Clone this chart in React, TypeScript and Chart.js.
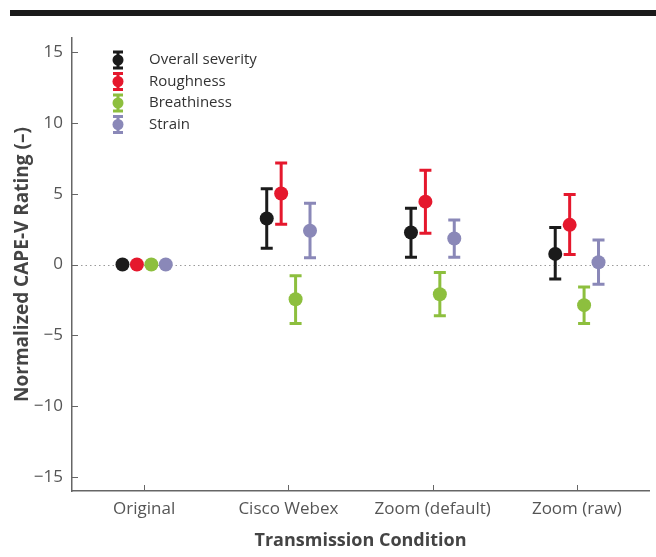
import React, { useEffect, useRef } from "react";
import { Chart, registerables } from "chart.js";
Chart.register(...registerables);

const categories = ["Original", "Cisco Webex", "Zoom (default)", "Zoom (raw)"];
const seriesNames = ["Overall severity", "Roughness", "Breathiness", "Strain"];
const seriesColors = ["#1b1b1b", "#e5182d", "#8dbf3e", "#8a88b8"];
const seriesOffsets = [-0.15, -0.05, 0.05, 0.15];

const overallMean = [0, 3.25, 2.26, 0.75];
const overallLow = [0, 1.14, 0.51, -1.03];
const overallHigh = [0, 5.35, 3.97, 2.62];

const roughMean = [0, 5.02, 4.44, 2.8];
const roughLow = [0, 2.85, 2.2, 0.7];
const roughHigh = [0, 7.17, 6.66, 4.95];

const breathMean = [0, -2.45, -2.1, -2.87];
const breathLow = [0, -4.16, -3.62, -4.16];
const breathHigh = [0, -0.79, -0.56, -1.59];

const strainMean = [0, 2.38, 1.84, 0.16];
const strainLow = [0, 0.47, 0.51, -1.4];
const strainHigh = [0, 4.32, 3.15, 1.73];

const yTicks = [-15, -10, -5, 0, 5, 10, 15];

const means = [overallMean, roughMean, breathMean, strainMean];
const lows = [overallLow, roughLow, breathLow, strainLow];
const highs = [overallHigh, roughHigh, breathHigh, strainHigh];

const FONT = "'Open Sans', 'Noto Sans', sans-serif";

const topBarPlugin = {
  id: "topBar",
  beforeDraw(chart: any) {
    const ctx = chart.ctx;
    ctx.save();
    ctx.fillStyle = "#1a1a1a";
    ctx.fillRect(10, 10, chart.width - 10, 6);
    ctx.restore();
  },
};

const zeroLinePlugin = {
  id: "zeroLine",
  beforeDatasetsDraw(chart: any) {
    const { ctx, chartArea, scales } = chart;
    const y = Math.round(scales.y.getPixelForValue(0)) + 0.5;
    ctx.save();
    ctx.strokeStyle = "#9a9a9a";
    ctx.lineWidth = 1;
    ctx.setLineDash([1.5, 3]);
    ctx.beginPath();
    ctx.moveTo(chartArea.left, y);
    ctx.lineTo(chartArea.right, y);
    ctx.stroke();
    ctx.restore();
  },
};

const errorBarPlugin = {
  id: "errorBars",
  beforeDatasetsDraw(chart: any) {
    const { ctx, scales } = chart;
    ctx.save();
    ctx.lineWidth = 3;
    chart.data.datasets.forEach((ds: any, di: number) => {
      ctx.strokeStyle = seriesColors[di];
      ds.data.forEach((pt: any, i: number) => {
        const lo = lows[di][i];
        const hi = highs[di][i];
        if (lo === hi) return;
        const x = scales.x.getPixelForValue(pt.x);
        const yl = scales.y.getPixelForValue(lo);
        const yh = scales.y.getPixelForValue(hi);
        ctx.beginPath();
        ctx.moveTo(x, yl);
        ctx.lineTo(x, yh);
        ctx.moveTo(x - 6, yl);
        ctx.lineTo(x + 6, yl);
        ctx.moveTo(x - 6, yh);
        ctx.lineTo(x + 6, yh);
        ctx.stroke();
      });
    });
    ctx.restore();
  },
};

const inwardTicksPlugin = {
  id: "inwardTicks",
  afterDraw(chart: any) {
    const { ctx, chartArea, scales } = chart;
    ctx.save();
    ctx.strokeStyle = "#666";
    ctx.lineWidth = 1;
    ctx.beginPath();
    scales.y.ticks.forEach((t: any) => {
      const y = Math.round(scales.y.getPixelForValue(t.value)) + 0.5;
      ctx.moveTo(chartArea.left, y);
      ctx.lineTo(chartArea.left + 6, y);
    });
    scales.x.ticks.forEach((t: any) => {
      const x = Math.round(scales.x.getPixelForValue(t.value)) + 0.5;
      ctx.moveTo(x, chartArea.bottom);
      ctx.lineTo(x, chartArea.bottom - 6);
    });
    ctx.stroke();
    ctx.restore();
  },
};

const legendPlugin = {
  id: "customLegend",
  afterDraw(chart: any) {
    const { ctx, chartArea } = chart;
    ctx.save();
    const gx = chartArea.left + 46;
    const tx = chartArea.left + 77;
    const y0 = chartArea.top + 22;
    const step = 21.5;
    ctx.font = `15px ${FONT}`;
    ctx.textBaseline = "middle";
    ctx.textAlign = "left";
    seriesNames.forEach((name, i) => {
      const y = y0 + i * step;
      const c = seriesColors[i];
      ctx.strokeStyle = c;
      ctx.fillStyle = c;
      ctx.lineWidth = 3;
      ctx.beginPath();
      ctx.moveTo(gx, y - 8);
      ctx.lineTo(gx, y + 8);
      ctx.moveTo(gx - 5, y - 8);
      ctx.lineTo(gx + 5, y - 8);
      ctx.moveTo(gx - 5, y + 8);
      ctx.lineTo(gx + 5, y + 8);
      ctx.stroke();
      ctx.beginPath();
      ctx.arc(gx, y, 5.5, 0, Math.PI * 2);
      ctx.fill();
      ctx.fillStyle = "#333";
      ctx.fillText(name, tx, y);
    });
    ctx.restore();
  },
};

export default function App() {
  const ref = useRef<HTMLCanvasElement>(null);
  useEffect(() => {
    document.body.style.margin = "0";
    const canvas = ref.current;
    if (!canvas) return;
    const datasets = seriesNames.map((name, di) => ({
      label: name,
      data: categories.map((_, i) => ({ x: i + seriesOffsets[di], y: means[di][i] })),
      backgroundColor: seriesColors[di],
      borderColor: seriesColors[di],
      pointRadius: 7,
      pointBorderWidth: 0,
      showLine: false,
    }));
    const chart = new Chart(canvas, {
      type: "scatter",
      data: { datasets },
      options: {
        responsive: false,
        animation: false,
        devicePixelRatio: 1,
        layout: { padding: { top: 38, right: 4, left: 0, bottom: 0 } },
        plugins: { legend: { display: false }, tooltip: { enabled: false } },
        scales: {
          x: {
            type: "linear",
            min: -0.5,
            max: 3.5,
            afterFit: (s: any) => {
              s.height = 66;
            },
            afterBuildTicks: (s: any) => {
              s.ticks = categories.map((_, i) => ({ value: i }));
            },
            grid: { display: false, drawTicks: false },
            border: { display: true, color: "#666", width: 1.5 },
            ticks: {
              padding: 8,
              color: "#555",
              font: { family: FONT, size: 17 },
              callback: (v: any) => categories[v] ?? "",
              maxRotation: 0,
              autoSkip: false,
            },
            title: {
              display: true,
              text: "Transmission Condition",
              color: "#444",
              font: { family: FONT, size: 18, weight: "bold" },
              padding: { top: 0, bottom: 5 },
            },
          },
          y: {
            type: "linear",
            min: -16,
            max: 16,
            afterFit: (s: any) => {
              s.width = 72;
            },
            afterBuildTicks: (s: any) => {
              s.ticks = yTicks.map((v) => ({ value: v }));
            },
            grid: { display: false, drawTicks: false },
            border: { display: true, color: "#666", width: 1.5 },
            ticks: {
              padding: 9,
              color: "#555",
              font: { family: FONT, size: 17 },
              callback: (v: any) => (v < 0 ? "\u2212" + Math.abs(v) : String(v)),
            },
            title: {
              display: true,
              text: "Normalized CAPE-V Rating (\u2013)",
              color: "#444",
              font: { family: FONT, size: 19, weight: "bold" },
              padding: { top: 11, bottom: 0 },
            },
          },
        },
      },
      plugins: [topBarPlugin, zeroLinePlugin, errorBarPlugin, inwardTicksPlugin, legendPlugin],
    } as any);
    return () => chart.destroy();
  }, []);
  return <canvas ref={ref} width={656} height={557} />;
}
